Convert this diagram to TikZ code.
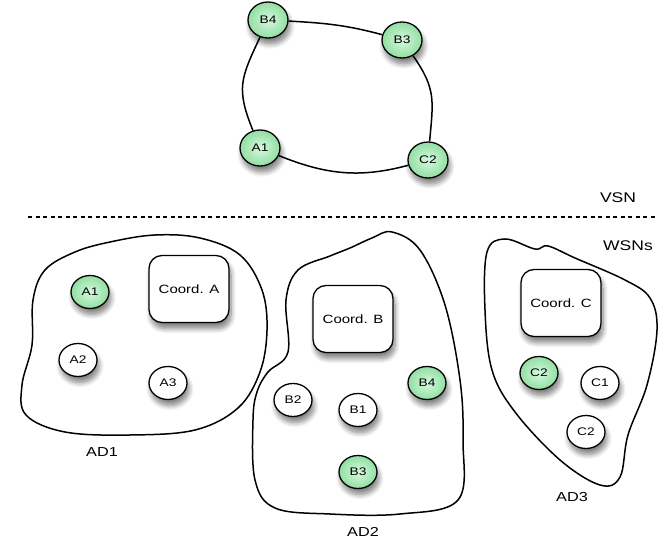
\documentclass[tikz,border=0pt]{standalone}
\usepackage{fontspec}
\setmainfont{Liberation Sans}[FakeStretch=1.25]
\usetikzlibrary{shapes.geometric,shadows.blur}
\definecolor{ngreen}{RGB}{145,222,162}
\definecolor{ngreenin}{RGB}{215,249,223}
\tikzset{
  shad/.style={blur shadow={shadow xshift=2pt,shadow yshift=-6pt,shadow blur steps=8,shadow blur radius=5pt,shadow opacity=50}},
  basenode/.style={ellipse, draw, line width=1.3pt, inner sep=0pt, minimum width=38pt, minimum height=33pt, font=\fontsize{11}{13}\selectfont, shad},
  gnode/.style={basenode, shading=radial, inner color=ngreenin, outer color=ngreen},
  wnode/.style={basenode, fill=white},
  ringnode/.style={gnode, minimum width=40pt, minimum height=36pt},
  coordbox/.style={rectangle, rounded corners=13pt, draw, line width=1.3pt, fill=white, minimum width=80pt, minimum height=67pt, font=\fontsize{12}{14}\selectfont, shad},
  blob/.style={draw, line width=1.5pt},
  ringedge/.style={draw, line width=1.5pt},
  lbl/.style={font=\fontsize{13}{15}\selectfont, inner sep=0pt},
  biglbl/.style={font=\fontsize{14}{16}\selectfont, inner sep=0pt}
}
\begin{document}
\begin{tikzpicture}[x=1pt,y=-1pt]
\useasboundingbox (0,0) rectangle (665,540);
% domain blobs
\path[blob] plot[smooth cycle, tension=0.6] coordinates {(45,270) (75,252) (110,242) (155,235) (200,238) (240,255) (262,290) (267,330) (260,372) (238,408) (195,430) (130,435) (65,432) (26,415) (22,385) (32,345) (33,300)};
\path[blob] plot[smooth cycle, tension=0.6] coordinates {(268,372) (288,352) (286,300) (298,270) (330,256) (350,248) (372,238) (392,232) (420,250) (445,305) (460,380) (463,440) (458,500) (400,514) (330,514) (275,508) (255,480) (253,420) (257,392)};
\path[blob] plot[smooth cycle, tension=0.6] coordinates {(487,252) (505,239) (535,249) (548,246) (575,258) (625,280) (650,298) (657,330) (647,385) (628,435) (620,477) (600,485) (560,460) (515,412) (492,370) (485,310)};
% separator
\coordinate (dl) at (28,217);
\coordinate (dr) at (657,217);
\draw[line width=1.2pt, dash pattern=on 4pt off 3.5pt] (dl) -- (dr);
\node[biglbl] (vsn) at (618,198) {VSN};
\node[biglbl] (wsns) at (628,246) {WSNs};
\node[lbl] (ad1) at (102,452) {AD1};
\node[lbl] (ad2) at (363,532) {AD2};
\node[lbl] (ad3) at (572,497) {AD3};
% AD1
\node[coordbox] (ca) at (189,289) {Coord. A};
\node[gnode] (a1) at (90,292) {A1};
\node[wnode] (a2) at (78,360) {A2};
\node[wnode] (a3) at (168,383) {A3};
% AD2
\node[coordbox] (cb) at (353,319) {Coord. B};
\node[wnode] (b2) at (293,400) {B2};
\node[wnode] (b1) at (358,410) {B1};
\node[gnode] (b4l) at (427,383) {B4};
\node[gnode] (b3l) at (358,472) {B3};
% AD3
\node[coordbox] (cc) at (561,303) {Coord. C};
\node[gnode] (c2g) at (539,373) {C2};
\node[wnode] (c1) at (600,383) {C1};
\node[wnode] (c2w) at (586,432) {C2};
% VSN ring
\node[ringnode] (rb4) at (268,20) {B4};
\node[ringnode] (rb3) at (402,40) {B3};
\node[ringnode] (ra1) at (260,148) {A1};
\node[ringnode] (rc2) at (428,160) {C2};
\draw[ringedge] (rb4) to[out=-3,in=165] (rb3);
\draw[ringedge] (rb3) to[out=-55,in=85,looseness=1.2] (rc2);
\draw[ringedge] (rc2) to[out=195,in=-22] (ra1);
\draw[ringedge] (ra1) to[out=112,in=-115,looseness=1.25] (rb4);
\end{tikzpicture}
\end{document}
